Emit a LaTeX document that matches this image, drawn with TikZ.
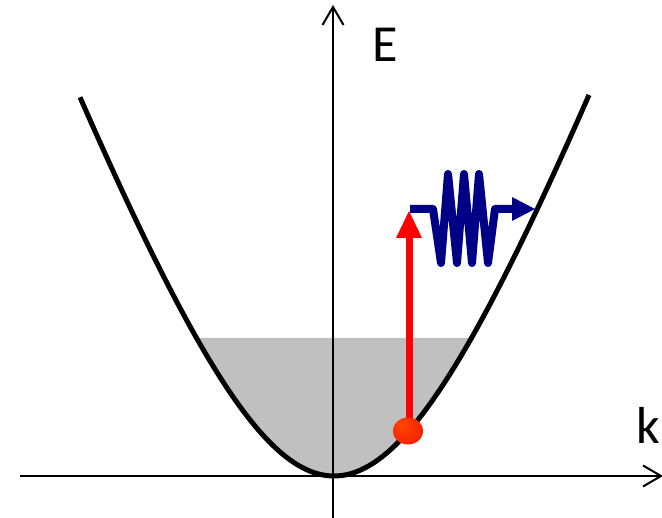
\documentclass[tikz,border=0pt]{standalone}
\usepackage{fontspec}
\setmainfont{Carlito}
\usetikzlibrary{arrows.meta}
\definecolor{shadegray}{RGB}{192,192,192}
\definecolor{wavenavy}{RGB}{0,0,135}
\definecolor{arrowred}{RGB}{255,0,0}
\pgfdeclareradialshading{redball}{\pgfpoint{-12bp}{12bp}}{rgb(0bp)=(1,0.27,0); rgb(28bp)=(0.96,0.16,0); rgb(62bp)=(0.62,0.05,0); rgb(80bp)=(0.62,0.05,0)}
\begin{document}
\begin{tikzpicture}[x=1pt,y=-1pt,
  axis/.style={line width=2pt,black},
  axistip/.style={-{Straight Barb[length=18pt,width=21pt,line width=2pt]}},
  curve/.style={line width=5pt,black,line join=round},
  redline/.style={line width=7pt,arrowred},
  wave/.style={line width=8pt,wavenavy,line join=round},
  lbl/.style={font=\fontsize{52}{60}\selectfont,inner sep=0pt}]
\useasboundingbox (0,0) rectangle (662,518);
\clip (0,0) rectangle (662,518);
% filled states
\fill[shadegray] plot[domain=-137.5:137.5,samples=80] ({334+\x},{476-424*(sqrt(1+(\x/158)^2)-1)}) -- cycle;
% axes
\coordinate (xl) at (20,476);
\coordinate (xr) at (663,476);
\coordinate (yb) at (333,520);
\coordinate (yt) at (333,5);
\draw[axis,axistip] (xl) -- (xr);
\draw[axis,axistip] (yb) -- (yt);
% dispersion
\draw[curve] plot[domain=-254:255,samples=120] ({334+\x},{476-424*(sqrt(1+(\x/158)^2)-1)});
% labels
\node[lbl] (E) at (385,45) {E};
\node[lbl] (k) at (648,425) {k};
% excitation arrow
\coordinate (ball) at (408,431);
\coordinate (rtop) at (409,238);
\draw[redline] (409,431) -- (rtop);
\fill[arrowred] (396,238) -- (409,211) -- (422,238) -- cycle;
\shade[shading=redball] (ball) ellipse (15 and 13.5);
% emitted wave
\coordinate (ws) at (410,209);
\coordinate (we) at (514,209);
\draw[wave] (ws) -- (433,209) -- (441,263) -- (448,174) -- (457,263) -- (464,174) -- (472,263) -- (479,174) -- (488,263) -- (495,209) -- (we);
\fill[wavenavy] (512,197) -- (535,209) -- (512,221) -- cycle;
\end{tikzpicture}
\end{document}
